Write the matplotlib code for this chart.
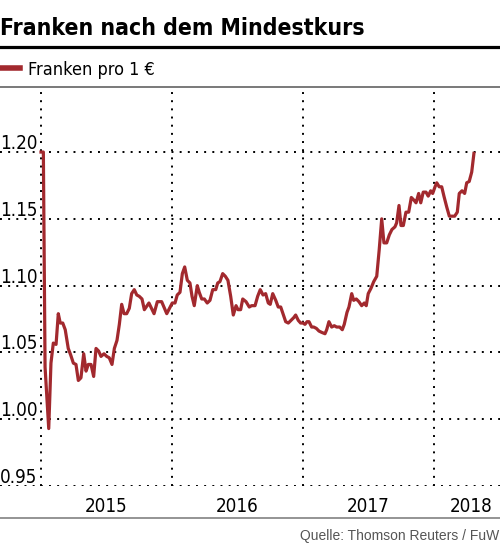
import matplotlib
matplotlib.use("Agg")
import matplotlib.pyplot as plt
import matplotlib.transforms as mtransforms
from matplotlib import font_manager

# Franken pro 1 Euro, Zeitpunkte als Dezimaljahr
years = [2015.000, 2015.018, 2015.031, 2015.059, 2015.076, 2015.094, 2015.115, 2015.132,
         2015.147, 2015.166, 2015.185, 2015.208, 2015.227, 2015.247, 2015.267, 2015.285,
         2015.305, 2015.326, 2015.344, 2015.361, 2015.382, 2015.402, 2015.420, 2015.440,
         2015.458, 2015.481, 2015.502, 2015.521, 2015.542, 2015.560, 2015.580, 2015.598,
         2015.616, 2015.634, 2015.654, 2015.674, 2015.692, 2015.712, 2015.731, 2015.750,
         2015.771, 2015.789, 2015.824, 2015.863, 2015.888, 2015.921, 2015.960, 2016.002,
         2016.023, 2016.040, 2016.061, 2016.079, 2016.097, 2016.117, 2016.137, 2016.153,
         2016.170, 2016.193, 2016.208, 2016.227, 2016.247, 2016.269, 2016.290, 2016.311,
         2016.334, 2016.349, 2016.366, 2016.387, 2016.407, 2016.427, 2016.448, 2016.468,
         2016.489, 2016.504, 2016.524, 2016.540, 2016.565, 2016.590, 2016.608, 2016.634,
         2016.654, 2016.674, 2016.695, 2016.715, 2016.735, 2016.750, 2016.769, 2016.792,
         2016.811, 2016.830, 2016.847, 2016.868, 2016.888, 2016.908, 2016.929, 2016.944,
         2016.964, 2016.982, 2017.000, 2017.015, 2017.031, 2017.046, 2017.066, 2017.082,
         2017.102, 2017.122, 2017.143, 2017.168, 2017.181, 2017.198, 2017.219, 2017.239,
         2017.257, 2017.280, 2017.300, 2017.315, 2017.336, 2017.351, 2017.372, 2017.387,
         2017.407, 2017.427, 2017.448, 2017.468, 2017.483, 2017.498, 2017.519, 2017.540,
         2017.563, 2017.582, 2017.601, 2017.618, 2017.639, 2017.659, 2017.679, 2017.702,
         2017.715, 2017.733, 2017.748, 2017.766, 2017.786, 2017.807, 2017.827, 2017.847,
         2017.863, 2017.883, 2017.899, 2017.918, 2017.939, 2017.956, 2017.975, 2017.990,
         2018.008, 2018.021, 2018.040, 2018.059, 2018.076, 2018.097, 2018.117, 2018.137,
         2018.158, 2018.178, 2018.193, 2018.214, 2018.234, 2018.250, 2018.269, 2018.288,
         2018.305]
chf = [1.200, 1.200, 1.039, 0.993, 1.042, 1.057, 1.056, 1.079,
       1.072, 1.072, 1.067, 1.053, 1.048, 1.042, 1.041, 1.029,
       1.031, 1.049, 1.036, 1.041, 1.041, 1.032, 1.053, 1.051,
       1.047, 1.049, 1.047, 1.046, 1.041, 1.053, 1.059, 1.071,
       1.086, 1.079, 1.079, 1.083, 1.094, 1.097, 1.093, 1.092,
       1.090, 1.082, 1.087, 1.079, 1.088, 1.088, 1.079, 1.087,
       1.087, 1.093, 1.095, 1.109, 1.114, 1.104, 1.102, 1.092,
       1.085, 1.100, 1.095, 1.090, 1.090, 1.087, 1.089, 1.097,
       1.097, 1.102, 1.103, 1.109, 1.107, 1.104, 1.092, 1.078,
       1.085, 1.082, 1.082, 1.090, 1.088, 1.084, 1.085, 1.085,
       1.092, 1.097, 1.093, 1.094, 1.087, 1.086, 1.094, 1.089,
       1.084, 1.084, 1.079, 1.073, 1.072, 1.074, 1.076, 1.078,
       1.074, 1.072, 1.072, 1.071, 1.073, 1.073, 1.069, 1.069,
       1.068, 1.066, 1.065, 1.064, 1.067, 1.073, 1.069, 1.070,
       1.069, 1.069, 1.067, 1.071, 1.080, 1.084, 1.094, 1.089,
       1.090, 1.088, 1.085, 1.087, 1.085, 1.094, 1.098, 1.103,
       1.107, 1.127, 1.150, 1.132, 1.132, 1.138, 1.142, 1.144,
       1.147, 1.160, 1.145, 1.145, 1.155, 1.155, 1.166, 1.164,
       1.162, 1.169, 1.162, 1.170, 1.170, 1.167, 1.171, 1.169,
       1.174, 1.177, 1.174, 1.174, 1.167, 1.159, 1.152, 1.152,
       1.152, 1.155, 1.169, 1.171, 1.169, 1.177, 1.178, 1.185,
       1.199]

y_ticks = [0.95, 1.00, 1.05, 1.10, 1.15, 1.20]
y_labels = ["0.95", "1.00", "1.05", "1.10", "1.15", "1.20"]
year_lines = [2015, 2016, 2017, 2018]
year_label_pos = [2015.5, 2016.5, 2017.5, 2018.28]
year_labels = ["2015", "2016", "2017", "2018"]

RED = "#a2292e"

names = {f.name for f in font_manager.fontManager.ttflist}
if "Liberation Sans Narrow" in names:
    narrow = dict(family="Liberation Sans Narrow")
else:
    narrow = dict(family="DejaVu Sans", stretch="condensed")

W, H = 500, 545
fig = plt.figure(figsize=(W / 100, H / 100), dpi=100)

def fy(py):
    # Pixelzeile von oben -> Figurenkoordinate
    return 1 - py / H

# Kopf
fig.text(0.0, fy(35), "Franken nach dem Mindestkurs", fontsize=16.5, fontweight="bold",
         ha="left", va="baseline", **narrow)
fig.add_artist(plt.Line2D([0, 1], [fy(46.5), fy(46.5)], color="black", lw=2.3))
fig.add_artist(plt.Line2D([0, 20 / W], [fy(68), fy(68)], color=RED, lw=4))
fig.text(28 / W, fy(75), "Franken pro 1 €", fontsize=13, ha="left", va="baseline", **narrow)
fig.add_artist(plt.Line2D([0, 1], [fy(87), fy(87)], color="#555555", lw=1.1))

# Diagramm
ax = fig.add_axes([0, fy(486), 1, (486 - 87) / H])
ax.plot(years, chf, color=RED, lw=2.3, solid_joinstyle="round")
ax.set_xlim(2014.687, 2018.504)
ax.set_ylim(0.95, 1.2487)
for s in ax.spines.values():
    s.set_visible(False)

ax.set_xticks(year_lines)
ax.set_xticklabels([])
ax.set_yticks(y_ticks)
ax.set_yticklabels([])
ax.tick_params(which="major", length=0)
ax.grid(True, color="black", lw=1.4, linestyle=(0, (1, 3.2)))
ax.set_axisbelow(True)

ax.set_xticks(year_label_pos, minor=True)
ax.set_xticklabels(year_labels, minor=True, fontsize=13.5, **narrow)
ax.tick_params(which="minor", length=0, pad=8)

trans = mtransforms.blended_transform_factory(ax.transAxes, ax.transData)
off = mtransforms.offset_copy(trans, fig=fig, x=0, y=3, units="dots")
for v, lab in zip(y_ticks, y_labels):
    ax.text(0.0, v, lab, transform=off, ha="left", va="baseline", fontsize=13.5, **narrow)

# Fuss
fig.add_artist(plt.Line2D([0, 1], [fy(518), fy(518)], color="#777777", lw=1.1))
fig.text(499 / W, fy(540), "Quelle: Thomson Reuters / FuW", fontsize=10, color="#555555",
         ha="right", va="baseline", family="Liberation Sans")

fig.savefig("out.png", dpi=100)
